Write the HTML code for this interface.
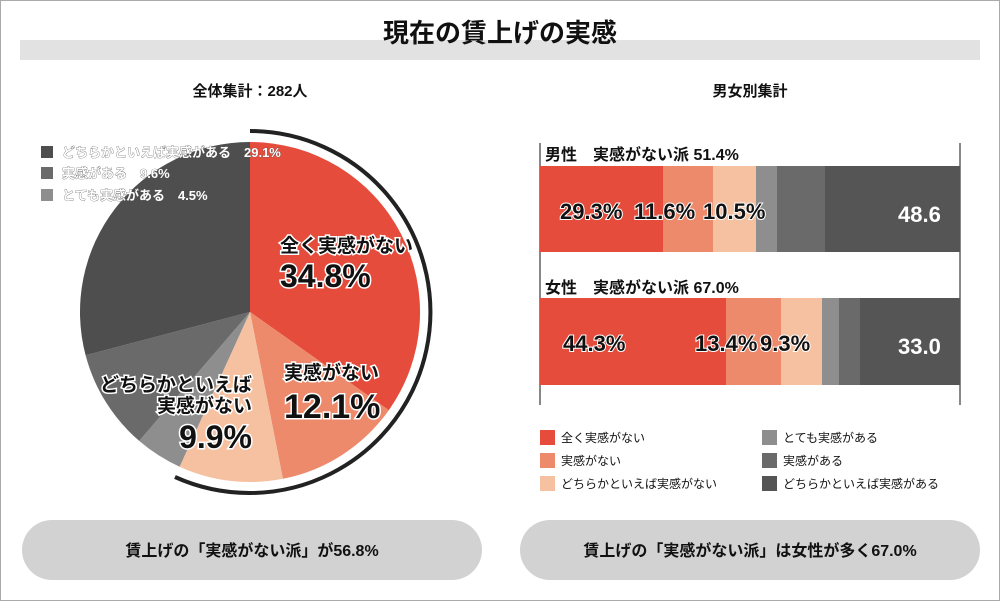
<!DOCTYPE html>
<html><head><meta charset="utf-8"><style>
body{margin:0;width:1000px;height:601px;background:#fff;overflow:hidden;font-family:"Liberation Sans","Noto Sans CJK JP",sans-serif}
</style></head><body>
<svg width="1000" height="601" viewBox="0 0 1000 601" xmlns="http://www.w3.org/2000/svg" font-family="'Liberation Sans','Noto Sans CJK JP',sans-serif">
<rect x="0.5" y="0.5" width="999" height="600" fill="#fff" stroke="#aaa"/>
<rect x="20" y="40" width="960" height="20" fill="#e2e2e2"/>
<text x="500" y="42" font-size="26" font-weight="bold" text-anchor="middle" fill="#111">現在の賃上げの実感</text>
<text x="250" y="96" font-size="15" font-weight="bold" text-anchor="middle" fill="#111">全体集計：282人</text>
<text x="750" y="96" font-size="15" font-weight="bold" text-anchor="middle" fill="#111">男女別集計</text>
<!-- pie -->
<g>
<path d="M250,312 L250,142 A170,170 0 0 1 388.8,410.2Z" fill="#e64c3c"/>
<path d="M250,312 L388.8,410.2 A170,170 0 0 1 282.9,478.8Z" fill="#ee8a6c"/>
<path d="M250,312 L282.9,478.8 A170,170 0 0 1 179.6,466.7Z" fill="#f5c1a1"/>
<path d="M250,312 L179.6,466.7 A170,170 0 0 1 139.2,440.9Z" fill="#8e8e8e"/>
<path d="M250,312 L139.2,440.9 A170,170 0 0 1 85.6,355.3Z" fill="#6a6a6a"/>
<path d="M250,312 L85.6,355.3 A170,170 0 0 1 250,142Z" fill="#4e4e4e"/>
<path d="M250,131 A181,181 0 1 1 175,477" fill="none" stroke="#222" stroke-width="4"/>
</g>
<g font-size="13" font-weight="bold" fill="#fff" stroke="#555" stroke-width="0.6" paint-order="stroke">
<rect x="41" y="146" width="12" height="12" fill="#4e4e4e" stroke="none"/><text x="62" y="157">どちらかといえば実感がある　29.1%</text>
<rect x="41" y="167" width="12" height="12" fill="#6a6a6a" stroke="none"/><text x="62" y="178">実感がある　9.6%</text>
<rect x="41" y="189" width="12" height="12" fill="#8e8e8e" stroke="none"/><text x="62" y="200">とても実感がある　4.5%</text>
</g>
<g font-weight="bold" fill="#111" stroke="#fff" stroke-width="3" paint-order="stroke">
<text x="280" y="252" font-size="19">全く実感がない</text>
<text x="280" y="287" font-size="32">34.8%</text>
<text x="284" y="379" font-size="19">実感がない</text>
<text x="284" y="418" font-size="34">12.1%</text>
<text x="252" y="391" font-size="19" text-anchor="end">どちらかといえば</text>
<text x="252" y="412" font-size="19" text-anchor="end">実感がない</text>
<text x="252" y="448" font-size="32" text-anchor="end">9.9%</text>
</g>
<!-- bars -->
<line x1="540" y1="143" x2="540" y2="405" stroke="#888" stroke-width="2"/>
<line x1="960" y1="143" x2="960" y2="405" stroke="#888" stroke-width="2"/>
<text x="545" y="160" font-size="16" font-weight="bold" fill="#111">男性　実感がない派 51.4%</text>
<rect x="540" y="166" width="123" height="86" fill="#e64c3c"/>
<rect x="663" y="166" width="50" height="86" fill="#ee8a6c"/>
<rect x="713" y="166" width="43" height="86" fill="#f5c1a1"/>
<rect x="756" y="166" width="21" height="86" fill="#8e8e8e"/>
<rect x="777" y="166" width="48" height="86" fill="#6a6a6a"/>
<rect x="825" y="166" width="135" height="86" fill="#555"/>
<text x="545" y="293" font-size="16" font-weight="bold" fill="#111">女性　実感がない派 67.0%</text>
<rect x="540" y="298" width="186" height="87" fill="#e64c3c"/>
<rect x="726" y="298" width="55" height="87" fill="#ee8a6c"/>
<rect x="781" y="298" width="41" height="87" fill="#f5c1a1"/>
<rect x="822" y="298" width="17" height="87" fill="#8e8e8e"/>
<rect x="839" y="298" width="21" height="87" fill="#6a6a6a"/>
<rect x="860" y="298" width="100" height="87" fill="#555"/>
<g font-size="22" font-weight="bold" fill="#111" stroke="#fff" stroke-width="2" paint-order="stroke">
<text x="560" y="219">29.3%</text><text x="634" y="219">11.6%</text><text x="703" y="219">10.5%</text>
<text x="563" y="351">44.3%</text><text x="695" y="351">13.4%</text><text x="760" y="351">9.3%</text>
</g>
<g font-size="22" font-weight="bold" fill="#fff">
<text x="898" y="222">48.6</text><text x="898" y="354">33.0</text>
</g>
<g font-size="12" fill="#111">
<rect x="540" y="430" width="15" height="15" fill="#e64c3c"/><text x="561" y="442">全く実感がない</text>
<rect x="540" y="453" width="15" height="15" fill="#ee8a6c"/><text x="561" y="465">実感がない</text>
<rect x="540" y="476" width="15" height="15" fill="#f5c1a1"/><text x="561" y="488">どちらかといえば実感がない</text>
<rect x="762" y="430" width="15" height="15" fill="#8e8e8e"/><text x="783" y="442">とても実感がある</text>
<rect x="762" y="453" width="15" height="15" fill="#6a6a6a"/><text x="783" y="465">実感がある</text>
<rect x="762" y="476" width="15" height="15" fill="#555"/><text x="783" y="488">どちらかといえば実感がある</text>
</g>
<rect x="22" y="520" width="460" height="60" rx="30" fill="#d2d2d2"/>
<rect x="520" y="520" width="460" height="60" rx="30" fill="#d2d2d2"/>
<text x="252" y="556" font-size="16" font-weight="bold" text-anchor="middle" fill="#111">賃上げの「実感がない派」が56.8%</text>
<text x="750" y="556" font-size="16" font-weight="bold" text-anchor="middle" fill="#111">賃上げの「実感がない派」は女性が多く67.0%</text>
</svg>
</body></html>
